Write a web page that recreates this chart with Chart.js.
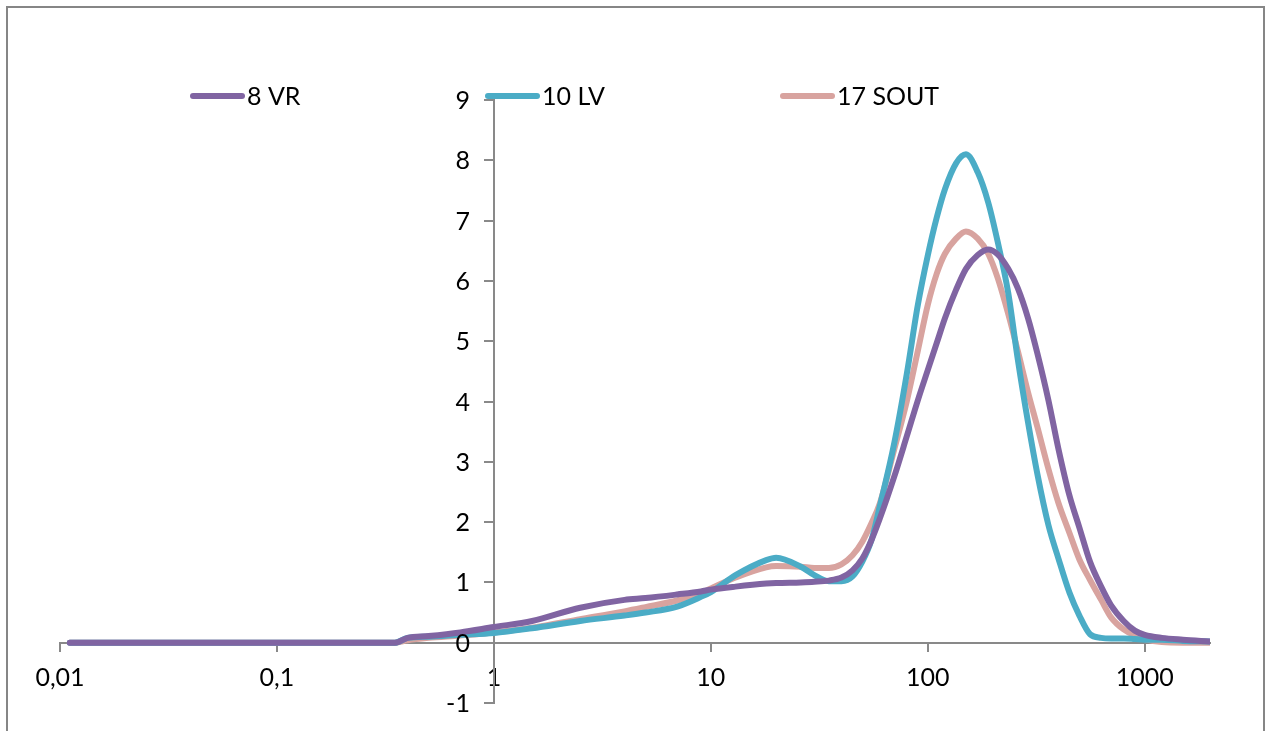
<!DOCTYPE html>
<html>
<head>
<meta charset="utf-8">
<title>Granulometrie</title>
<script src="https://cdn.jsdelivr.net/npm/chart.js@4.4.1/dist/chart.umd.min.js"></script>
<style>
  html, body { margin: 0; padding: 0; background: #fff; }
  #wrap { width: 1268px; height: 731px; position: relative; }
</style>
</head>
<body>
<div id="wrap"><canvas id="psdChart"></canvas></div>
<script>
// particle size grid (µm) shared by all three samples
const sizes = [0.0111, 0.35, 0.4, 0.5, 0.7, 1, 1.5, 2.5, 4, 5, 7, 9, 10, 13, 18, 20, 26, 30, 35, 40, 45, 50, 55, 60, 70, 80, 90, 100, 110, 120, 135, 150, 170, 190, 210, 235, 260, 290, 320, 360, 400, 450, 500, 560, 630, 700, 800, 900, 1000, 1200, 1500, 2000];

const vr8 = [0, 0, 0.08, 0.11, 0.17, 0.26, 0.36, 0.58, 0.71, 0.74, 0.8, 0.85, 0.88, 0.93, 0.98, 0.99, 1.0, 1.01, 1.03, 1.08, 1.2, 1.4, 1.7, 2.05, 2.75, 3.42, 4.02, 4.52, 4.97, 5.38, 5.85, 6.2, 6.43, 6.52, 6.44, 6.2, 5.88, 5.38, 4.8, 4.02, 3.22, 2.44, 1.91, 1.34, 0.93, 0.62, 0.36, 0.2, 0.13, 0.08, 0.05, 0.02];

const lv10 = [0, 0, 0.08, 0.1, 0.13, 0.16, 0.24, 0.36, 0.45, 0.5, 0.6, 0.76, 0.84, 1.12, 1.37, 1.41, 1.26, 1.12, 1.02, 1.02, 1.1, 1.35, 1.7, 2.25, 3.3, 4.45, 5.6, 6.42, 7.05, 7.52, 7.95, 8.1, 7.8, 7.3, 6.65, 5.8, 4.7, 3.65, 2.8, 1.95, 1.4, 0.83, 0.45, 0.14, 0.08, 0.07, 0.07, 0.06, 0.05, 0.05, 0.03, 0.02];

const sout17 = [0, 0, 0.04, 0.08, 0.12, 0.17, 0.25, 0.39, 0.52, 0.59, 0.7, 0.82, 0.9, 1.08, 1.25, 1.27, 1.26, 1.24, 1.24, 1.3, 1.45, 1.68, 1.98, 2.3, 3.2, 4.0, 4.84, 5.6, 6.12, 6.45, 6.7, 6.82, 6.7, 6.45, 6.05, 5.45, 4.84, 4.15, 3.58, 2.88, 2.32, 1.82, 1.38, 1.04, 0.71, 0.42, 0.22, 0.12, 0.06, 0.01, 0, 0];

const seriesNames = ['8 VR', '10 LV', '17 SOUT'];
const seriesColors = ['#8064A2', '#4BACC6', '#D8A39F'];

const xTickValues = [0.01, 0.1, 1, 10, 100, 1000];
const xTickLabels = ['0,01', '0,1', '1', '10', '100', '1000'];

const axisColor = '#898989';
const fontFamily = 'Lato, "Liberation Sans", sans-serif';

function toPoints(values) {
    return sizes.map((s, i) => ({ x: s, y: values[i] }));
}

// frame around the figure, y tick labels left of the crossing axis, legend row
const framePlugin = {
    id: 'frameAndLegend',
    beforeDraw(chart) {
        const ctx = chart.ctx;
        ctx.save();
        ctx.fillStyle = '#ffffff';
        ctx.fillRect(0, 0, chart.width, chart.height);
        ctx.strokeStyle = '#868686';
        ctx.lineWidth = 2;
        ctx.strokeRect(7, 7, 1257, 760);
        ctx.restore();
    },
    afterDraw(chart) {
        const ctx = chart.ctx;
        const xs = chart.scales.x;
        const ys = chart.scales.y;
        const axisX = xs.getPixelForValue(1);

        ctx.save();
        ctx.font = '25px ' + fontFamily;
        ctx.fillStyle = '#000';
        ctx.textAlign = 'right';
        ctx.textBaseline = 'middle';
        ys.ticks.forEach(t => {
            ctx.fillText(String(t.value), axisX - 24, ys.getPixelForValue(t.value) + 1);
        });

        ctx.textAlign = 'left';
        chart.data.datasets.forEach((ds, i) => {
            const x0 = 190 + i * 295;
            const y0 = 96;
            ctx.strokeStyle = ds.borderColor;
            ctx.lineWidth = 6;
            ctx.lineCap = 'round';
            ctx.beginPath();
            ctx.moveTo(x0 + 3, y0);
            ctx.lineTo(x0 + 52, y0);
            ctx.stroke();
            ctx.fillStyle = '#000';
            ctx.fillText(ds.label, x0 + 57, y0 + 1);
        });
        ctx.restore();
    }
};

const ctx = document.getElementById('psdChart').getContext('2d');
new Chart(ctx, {
    type: 'scatter',
    data: {
        datasets: [vr8, lv10, sout17].map((vals, i) => ({
            label: seriesNames[i],
            data: toPoints(vals),
            showLine: true,
            borderColor: seriesColors[i],
            backgroundColor: seriesColors[i],
            borderWidth: 6,
            pointRadius: 0,
            cubicInterpolationMode: 'monotone',
            borderCapStyle: 'round',
            borderJoinStyle: 'round'
        }))
    },
    options: {
        responsive: true,
        maintainAspectRatio: false,
        animation: false,
        layout: { padding: { left: 60, right: 58, top: 100, bottom: 28 } },
        plugins: {
            legend: { display: false },
            tooltip: { enabled: false }
        },
        scales: {
            x: {
                type: 'logarithmic',
                min: 0.01,
                max: 2000,
                position: { y: 0 },
                afterBuildTicks(scale) {
                    scale.ticks = xTickValues.map(v => ({ value: v }));
                },
                ticks: {
                    autoSkip: false,
                    maxRotation: 0,
                    padding: 12,
                    color: '#000',
                    font: { family: fontFamily, size: 25 },
                    callback: (value, index) => xTickLabels[index]
                },
                grid: {
                    drawOnChartArea: false,
                    drawTicks: true,
                    tickLength: 8,
                    color: axisColor,
                    lineWidth: 2
                },
                border: { display: true, color: axisColor, width: 2 }
            },
            y: {
                min: -1,
                max: 9,
                position: { x: 1 },
                ticks: {
                    stepSize: 1,
                    display: false
                },
                grid: {
                    drawOnChartArea: false,
                    drawTicks: true,
                    tickLength: 9,
                    color: axisColor,
                    lineWidth: 2
                },
                border: { display: true, color: axisColor, width: 2 }
            }
        }
    },
    plugins: [framePlugin]
});
</script>
</body>
</html>
